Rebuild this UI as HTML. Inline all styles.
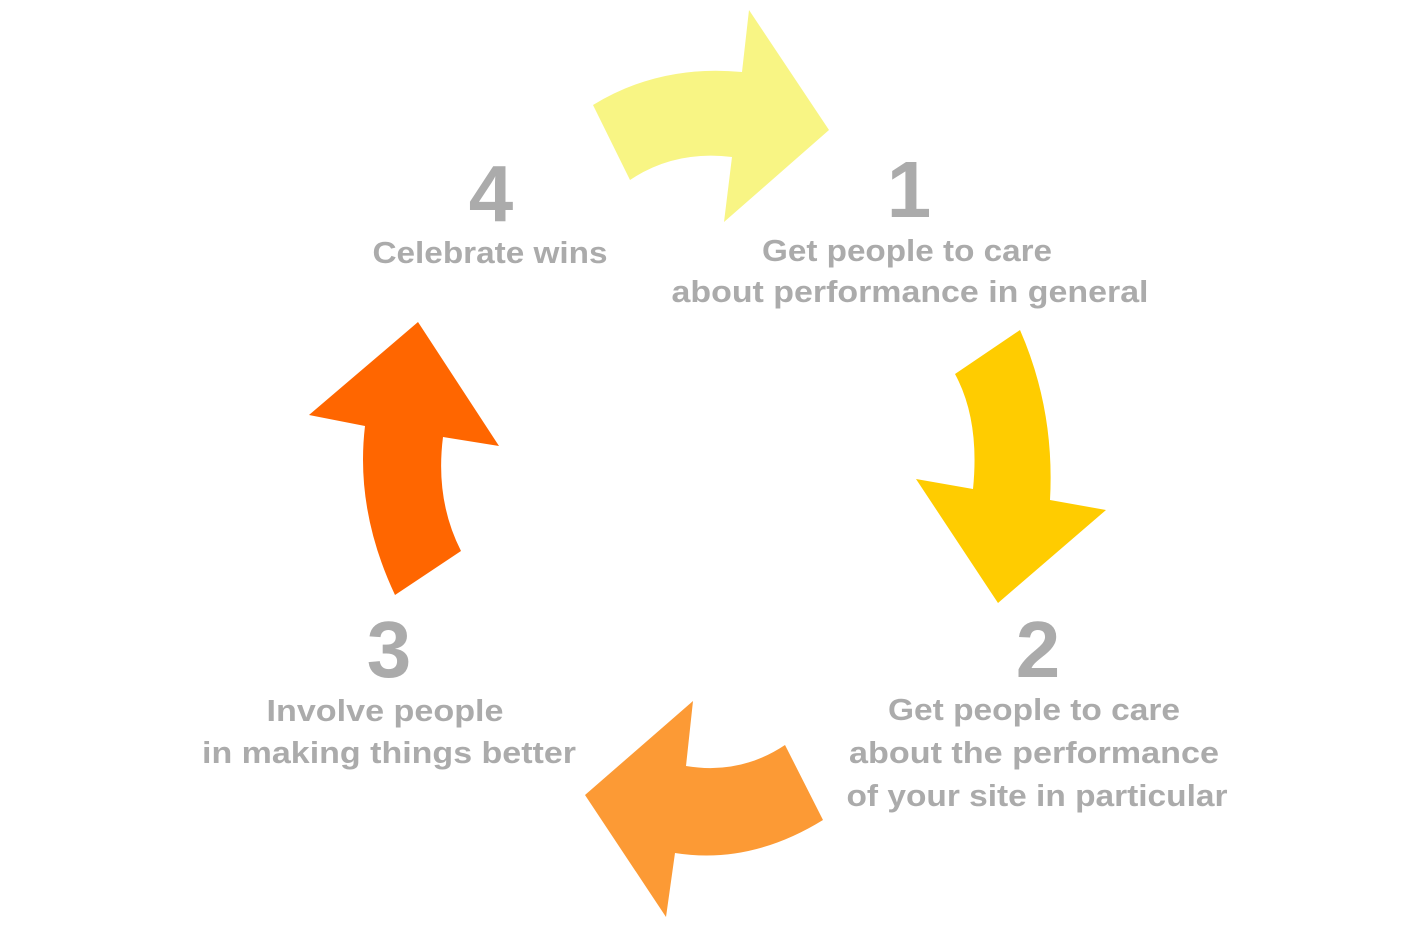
<!DOCTYPE html>
<html><head><style>html,body{margin:0;padding:0;background:#fff;}svg{display:block;}</style></head>
<body>
<svg width="1417" height="928" viewBox="0 0 1417 928" xmlns="http://www.w3.org/2000/svg">
<path fill="#F8F584" d="M593,105 Q660,64 742,72 L749,10 L829,130 L724,222 L732,157 Q675,150 630,180 Z"/>
<path fill="#FFCC00" d="M955,374 L1020,330 Q1055,410 1050,500 L1106,510 L998,603 L916,479 L973,489 Q980,420 955,374 Z"/>
<path fill="#FC9A35" d="M823,820 Q750,865 675,853 L666,917 L585,795 L693,701 L686,766 Q740,775 785,745 Z"/>
<path fill="#FF6600" d="M395,595 Q355,510 365,426 L309,415 L418,322 L499,446 L443,437 Q435,500 461,551 Z"/>
<g fill="#ababab" font-family="Liberation Sans, sans-serif" font-weight="bold" text-anchor="middle">
<text x="909" y="217" font-size="80">1</text>
<text x="491" y="221" font-size="80">4</text>
<text x="1038" y="677" font-size="80">2</text>
<text x="389" y="677" font-size="80">3</text>
<g font-size="31">
<text x="907" y="261" textLength="290" lengthAdjust="spacingAndGlyphs">Get people to care</text>
<text x="910" y="302" textLength="477" lengthAdjust="spacingAndGlyphs">about performance in general</text>
<text x="490" y="263" textLength="235" lengthAdjust="spacingAndGlyphs">Celebrate wins</text>
<text x="1034" y="720" textLength="292" lengthAdjust="spacingAndGlyphs">Get people to care</text>
<text x="1034" y="763" textLength="370" lengthAdjust="spacingAndGlyphs">about the performance</text>
<text x="1037" y="806" textLength="381" lengthAdjust="spacingAndGlyphs">of your site in particular</text>
<text x="385" y="721" textLength="237" lengthAdjust="spacingAndGlyphs">Involve people</text>
<text x="389" y="763" textLength="374" lengthAdjust="spacingAndGlyphs">in making things better</text>
</g>
</g>
</svg>
</body></html>
